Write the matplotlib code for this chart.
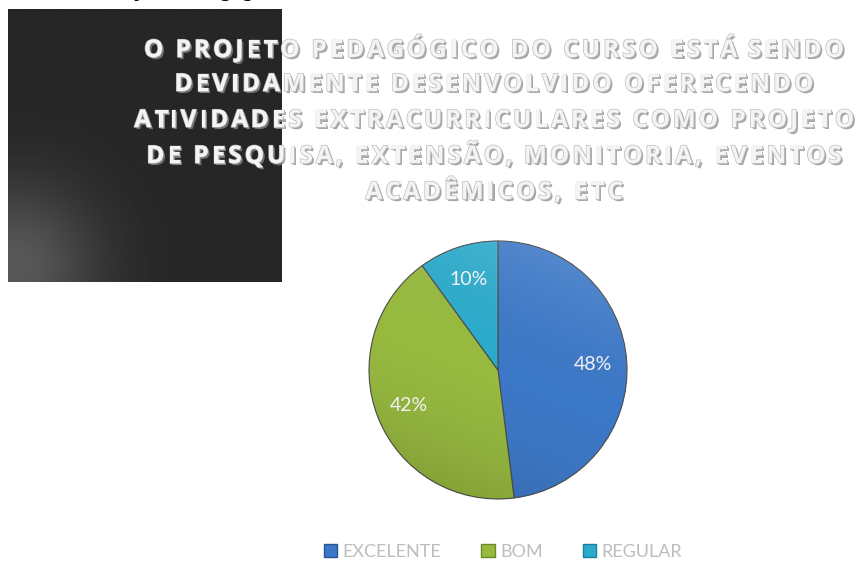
import numpy as np
import matplotlib.pyplot as plt
import matplotlib.patheffects as pe
from matplotlib.patches import Patch, Circle
from matplotlib.font_manager import FontProperties
from matplotlib.textpath import text_to_path

# data
categories = ['EXCELENTE', 'BOM', 'REGULAR']
values = [48, 42, 10]
colors = ['#3b78c8', '#97ba3e', '#2aabcc']
edge_colors = ['#2a5590', '#6b8a25', '#1d7f99']
title_lines = [
    'O PROJETO PEDAGÓGICO DO CURSO ESTÁ SENDO',
    'DEVIDAMENTE DESENVOLVIDO OFERECENDO',
    'ATIVIDADES EXTRACURRICULARES COMO PROJETO',
    'DE PESQUISA, EXTENSÃO, MONITORIA, EVENTOS',
    'ACADÊMICOS, ETC',
]

W, H = 863, 563
fig = plt.figure(figsize=(W / 100, H / 100), dpi=100)
fig.patch.set_facecolor('white')

def fx(px):
    return px / W

def fy(py):
    return 1 - py / H

# dark box with soft light spot at bottom-left
bg = fig.add_axes([fx(8), fy(282), fx(273), 273 / H])
yy, xx = np.mgrid[0:1:300j, 0:1:300j]
d2 = (xx - 0.03) ** 2 + (yy - 0.06) ** 2
img = 38 + 50 * np.exp(-d2 / 0.09)
bg.imshow(img, cmap='gray', vmin=0, vmax=255, origin='lower',
          extent=[0, 1, 0, 1], aspect='auto')
bg.set_axis_off()

# cut-off heading fragment at the very top
fig.text(fx(104), fy(-4), 'Projeto Pedagógico', family='Liberation Serif',
         weight='bold', style='italic', fontsize=16, color='black',
         va='baseline')

# title, drawn letter by letter to get the wide letter spacing
title_prop = FontProperties(family='Open Sans', weight='bold', size=17.5)
pt2px = 100 / 72

def text_width_px(s):
    w, _, _ = text_to_path.get_text_width_height_descent(s + 'I', title_prop, ismath=False)
    wi, _, _ = text_to_path.get_text_width_height_descent('I', title_prop, ismath=False)
    return (w - wi) * pt2px

# spacing chosen so the first line spans about 700 px
spacing_px = (700 - text_width_px(title_lines[0])) / (len(title_lines[0]) - 1)

effects = [pe.withSimplePatchShadow(offset=(1.5, -1.5), shadow_rgbFace='#8a8a8a', alpha=0.75),
           pe.withStroke(linewidth=1.0, foreground='#bdbdbd')]

title_y = [51, 85, 121, 157, 193]
for line, ty in zip(title_lines, title_y):
    total = text_width_px(line) + spacing_px * (len(line) - 1)
    x0 = 494 - total / 2
    for i, ch in enumerate(line):
        if ch == ' ':
            continue
        x = x0 + text_width_px(line[:i]) + spacing_px * i
        fig.text(fx(x), fy(ty), ch, ha='left', va='center',
                 fontproperties=title_prop, color='#f4f4f4',
                 path_effects=effects)

# pie
cx, cy, r = 498, 370, 129
ax = fig.add_axes([fx(cx - r), fy(cy + r), 2 * r / W, 2 * r / H])
wedges, texts, autotexts = ax.pie(
    values, colors=colors, startangle=90, counterclock=False,
    autopct='%d%%', pctdistance=0.74,
    wedgeprops=dict(linewidth=0.8, edgecolor='#4a4a4a'),
    textprops=dict(color='#f2f2f2', fontsize=14, family='Lato', zorder=5))

# soft top-light / bottom-dark shading over the pie
gy, gx = np.mgrid[1:-1:200j, -1:1:200j]
t = np.clip((gy + 0.4 * gx + 1.2) / 2.4, 0, 1)
shade = np.zeros((200, 200, 4))
shade[..., :3] = t[..., None]
shade[..., 3] = np.abs(t - 0.5) * 0.3
im = ax.imshow(shade, extent=[-1, 1, -1, 1], zorder=2, interpolation='bilinear')
im.set_clip_path(Circle((0, 0), 1, transform=ax.transData))
ax.set_xlim(-1, 1)
ax.set_ylim(-1, 1)
ax.set_aspect('equal')
ax.set_axis_off()

# legend
handles = [Patch(facecolor=c, edgecolor=e, label=l)
           for c, e, l in zip(colors, edge_colors, categories)]
fig.legend(handles=handles, loc='center', bbox_to_anchor=(fx(503), fy(552)),
           ncol=3, frameon=False, handlelength=0.75, handleheight=0.75,
           handletextpad=0.3, columnspacing=2.2,
           prop=dict(family='Lato', size=13), labelcolor='#bdbdbd')

fig.savefig('out.png', dpi=100)
